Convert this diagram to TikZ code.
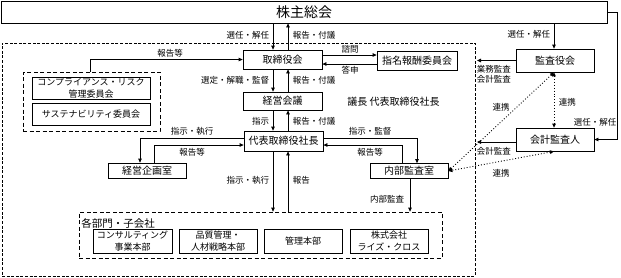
\documentclass[tikz,border=0pt]{standalone}
\usepackage{fontspec}
\setmainfont{Noto Sans CJK JP}
\usetikzlibrary{arrows.meta}
\begin{document}
\begin{tikzpicture}[x=1pt,y=-1pt,line width=0.8pt,
  >={Triangle[length=4pt,width=3.6pt]},
  box/.style={draw,fill=white,inner sep=0pt,align=center,font=\fontsize{10}{11}\selectfont},
  sbox/.style={box,font=\fontsize{9}{11.5}\selectfont},
  frame/.style={draw,inner sep=0pt,dash pattern=on 4pt off 2.5pt},
  oframe/.style={draw,inner sep=0pt,dash pattern=on 3pt off 1.6pt},
  lab/.style={inner sep=0.5pt,font=\fontsize{8.5}{10.5}\selectfont,align=left},
  link/.style={<->,dotted,line width=0.9pt}]
\useasboundingbox (0,0) rectangle (621,277);

% frames
\node[oframe,minimum width=473pt,minimum height=233pt] (outer) at (238.5,159.5) {};
\node[frame,minimum width=137pt,minimum height=59pt] (comm) at (91.5,101.5) {};
\node[frame,minimum width=363pt,minimum height=46pt] (dept) at (260.5,235) {};

% boxes
\node[box,minimum width=606pt,minimum height=22pt,font=\fontsize{14}{16}\selectfont] (kabu) at (304,12) {株主総会};
\node[box,minimum width=79pt,minimum height=19pt] (tori) at (282.5,59.5) {取締役会};
\node[box,minimum width=80pt,minimum height=19pt] (shimei) at (417,60.5) {指名報酬委員会};
\node[box,minimum width=79pt,minimum height=18pt] (keiei) at (282.5,101) {経営会議};
\node[box,minimum width=79pt,minimum height=20pt] (daihyo) at (283.5,141) {代表取締役社長};
\node[box,minimum width=78pt,minimum height=15pt] (kikaku) at (147,170.5) {経営企画室};
\node[box,minimum width=78pt,minimum height=15pt] (naibu) at (409,171) {内部監査室};
\node[box,minimum width=78pt,minimum height=23pt] (kansa) at (555,60.5) {監査役会};
\node[box,minimum width=78pt,minimum height=23pt] (kaikei) at (555,139.5) {会計監査人};
\node[sbox,minimum width=118pt,minimum height=22pt] (comp) at (91,88) {コンプライアンス・リスク\\管理委員会};
\node[sbox,minimum width=118pt,minimum height=22pt] (sust) at (91,114) {サステナビリティ委員会};
\node[sbox,minimum width=79pt,minimum height=24pt] (cons) at (132.5,241) {コンサルティング\\事業本部};
\node[sbox,minimum width=78pt,minimum height=24pt] (hin) at (218,241) {品質管理・\\人材戦略本部};
\node[sbox,minimum width=78pt,minimum height=24pt] (kanri) at (303,241) {管理本部};
\node[sbox,minimum width=78pt,minimum height=24pt] (rise) at (389,241) {株式会社\\ライズ・クロス};

% free text
\node[anchor=west,inner sep=0pt,font=\fontsize{10}{12}\selectfont] (gicho) at (347,102) {議長\ 代表取締役社長};
\node[anchor=west,inner sep=0pt,font=\fontsize{10.5}{12}\selectfont] (deptlab) at (81,223) {各部門・子会社};

% helper coordinates
\coordinate (xa) at (273,0);
\coordinate (xb) at (288,0);
\coordinate (xk) at (554,0);
\coordinate (xr) at (617,0);
\coordinate (x90) at (90,0);
\coordinate (x140) at (140,0);
\coordinate (x154) at (154,0);
\coordinate (x402) at (402,0);
\coordinate (x410) at (410,0);
\coordinate (x417) at (417,0);
\coordinate (x477) at (477,0);
\coordinate (y55) at (0,55);
\coordinate (y64) at (0,64);
\coordinate (y138) at (0,138);
\coordinate (y145) at (0,145);
\coordinate (y142) at (0,142);

% vertical spine
\draw[->] (kabu.south -| xa) -- (tori.north -| xa);
\draw[->] (tori.north -| xb) -- (kabu.south -| xb);
\draw[->] (tori.south -| xa) -- (keiei.north -| xa);
\draw[->] (keiei.north -| xb) -- (tori.south -| xb);
\draw[->] (keiei.south -| xa) -- (daihyo.north -| xa);
\draw[->] (daihyo.north -| xb) -- (keiei.south -| xb);
\draw[->] (daihyo.south -| xa) -- (dept.north -| xa);
\draw[->] (dept.north -| xb) -- (daihyo.south -| xb);

\node[lab,anchor=east] at (270,35) {選任・解任};
\node[lab,anchor=west] at (292,35) {報告・付議};
\node[lab,anchor=east] at (270,80) {選定・解職・監督};
\node[lab,anchor=west] at (292,80) {報告・付議};
\node[lab,anchor=east] at (270,121) {指示};
\node[lab,anchor=west] at (292,121) {報告・付議};
\node[lab,anchor=east] at (270,180) {指示・執行};
\node[lab,anchor=west] at (292,180) {報告};

% nomination committee
\draw[->] (tori.east |- y55) -- (shimei.west |- y55);
\draw[->] (shimei.west |- y64) -- (tori.east |- y64);
\node[lab] at (350,49) {諮問};
\node[lab] at (350,70) {答申};

% committees report
\draw[->] (comm.north -| x90) |- (tori.west);
\node[lab] at (170,53) {報告等};

% planning office
\draw[->] (daihyo.west |- y138) -| (kikaku.north -| x140);
\draw[->] (kikaku.north -| x154) |- (daihyo.west |- y145);
\node[lab] at (192,131) {指示・執行};
\node[lab] at (192,152) {報告等};

% internal audit office
\draw[->] (daihyo.east |- y138) -| (naibu.north -| x417);
\draw[->] (naibu.north -| x402) |- (daihyo.east |- y145);
\node[lab] at (370,131) {指示・監督};
\node[lab] at (370,152) {報告等};
\draw[->] (naibu.south -| x410) -- (dept.north -| x410);
\node[lab,anchor=east] at (405,199) {内部監査};

% auditors
\draw[->] (kabu.south -| xk) -- (kansa.north -| xk);
\node[lab,anchor=east] at (551,34) {選任・解任};
\draw[->] (kansa.west) -- (x477 |- kansa.west);
\node[lab,anchor=north west] at (476,64) {業務監査\\会計監査};
\draw[->] (kaikei.west |- y142) -- (x477 |- y142);
\node[lab,anchor=west] at (476,151) {会計監査};
\draw[->] (kabu.east) -- (xr |- kabu.east) -- (xr |- kaikei.east) -- (kaikei.east);
\node[lab,fill=white] at (595,122) {選任・解任};

% links
\draw[link] (kansa.south -| xk) -- (kaikei.north -| xk);
\node[lab,anchor=west] at (558,102) {連携};
\draw[link] (kansa.south -| xk) -- (naibu.east);
\node[lab] at (501,107) {連携};
\draw[link] (kaikei.south -| xk) -- (naibu.east);
\node[lab] at (501,173) {連携};
\end{tikzpicture}
\end{document}
